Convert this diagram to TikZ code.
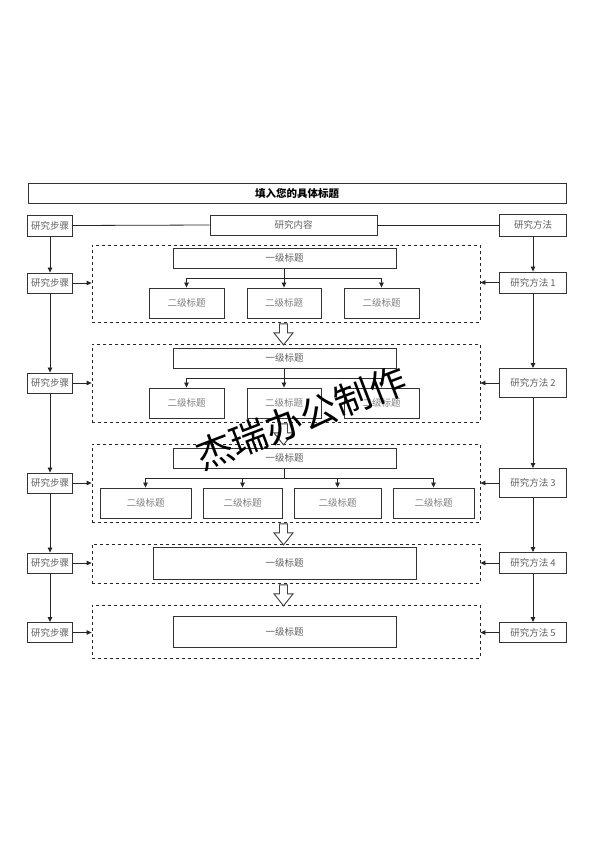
\documentclass[tikz,border=0pt]{standalone}
\usepackage{fontspec}
\newfontfamily\cjk{Noto Sans CJK SC}
\usetikzlibrary{arrows.meta,calc}
\begin{document}
\begin{tikzpicture}[x=1pt,y=-1pt,
  bx/.style={draw=black!80,line width=0.9pt,text=black!62,inner sep=0pt,
    font=\cjk\fontsize{9.5}{10}\selectfont,fill=white},
  sbox/.style={bx,minimum width=45pt,minimum height=20pt},
  mbox/.style={bx,minimum width=67pt},
  lvone/.style={bx,minimum width=223pt,minimum height=20pt},
  lvtwo/.style={bx,minimum height=30pt,text=black!50},
  dbox/.style={draw=black!85,dashed,line width=0.8pt,minimum width=388pt,inner sep=0pt},
  conn/.style={draw=black!85,line width=0.8pt},
  arr/.style={conn,-{Triangle[length=5pt,width=4.5pt]}},
  harrow/.pic={\draw[fill=white,draw=black!75,line width=0.9pt,line join=miter]
     (-4,0) -- (-4,9) -- (-9.5,9) -- (0,21) -- (9.5,9) -- (4,9) -- (4,0) -- cycle;}
]
\useasboundingbox (0,0) rectangle (594,841);
\fill[white] (0,0) rectangle (594,841);

% title
\node[bx,minimum width=538pt,minimum height=20pt,text=black,font=\cjk\bfseries\fontsize{10.5}{11}\selectfont] (title) at (297,193) {填入您的具体标题};

% top row
\node[sbox,minimum height=21pt] (s0) at (50,225.5) {研究步骤};
\node[bx,minimum width=167pt,minimum height=20pt] (content) at (293.5,225) {研究内容};
\node[mbox,minimum height=22pt] (m0) at (533,225) {研究方法};

% dashed frames
\node[dbox,minimum height=77pt] (d1) at (286,283.5) {};
\node[dbox,minimum height=78pt] (d2) at (286,383) {};
\node[dbox,minimum height=78pt] (d3) at (286,483) {};
\node[dbox,minimum height=39pt] (d4) at (286,563.5) {};
\node[dbox,minimum height=53pt] (d5) at (286,631.5) {};

% left column
\node[sbox] (s1) at (50,283) {研究步骤};
\node[sbox] (s2) at (50,383) {研究步骤};
\node[sbox] (s3) at (50,483) {研究步骤};
\node[sbox] (s4) at (50,563) {研究步骤};
\node[sbox] (s5) at (50,632.5) {研究步骤};

% right column
\node[mbox,minimum height=21pt] (m1) at (533,282.5) {研究方法 1};
\node[mbox,minimum height=29pt] (m2) at (533,383) {研究方法 2};
\node[mbox,minimum height=29pt] (m3) at (533,483) {研究方法 3};
\node[mbox,minimum height=21pt] (m4) at (533,563) {研究方法 4};
\node[mbox,minimum height=20pt] (m5) at (533,632.5) {研究方法 5};

% level-one boxes
\node[lvone] (r1) at (284.5,258) {一级标题};
\node[lvone] (r2) at (284.5,358) {一级标题};
\node[lvone] (r3) at (284.5,458) {一级标题};
\node[lvone,minimum width=263pt,minimum height=32pt] (r4) at (284.5,563) {一级标题};
\node[lvone,minimum height=31pt] (r5) at (284.5,631.5) {一级标题};

% level-two boxes
\node[lvtwo,minimum width=75pt] (a1) at (186.5,303) {二级标题};
\node[lvtwo,minimum width=74pt] (a2) at (284,303) {二级标题};
\node[lvtwo,minimum width=75pt] (a3) at (381.5,303) {二级标题};
\node[lvtwo,minimum width=75pt] (b1) at (186.5,403) {二级标题};
\node[lvtwo,minimum width=74pt] (b2) at (284,403) {二级标题};
\node[lvtwo,minimum width=75pt] (b3) at (381.5,403) {二级标题};
\node[lvtwo,minimum width=91pt] (c1) at (145.5,503) {二级标题};
\node[lvtwo,minimum width=79pt] (c2) at (242.5,503) {二级标题};
\node[lvtwo,minimum width=87pt] (c3) at (337.5,503) {二级标题};
\node[lvtwo,minimum width=81pt] (c4) at (433.5,503) {二级标题};

% branches
\coordinate (k1) at (284.5,278);
\coordinate (k2) at (284.5,378);
\coordinate (k3) at (284.5,478);
\draw[conn] (r1.south) -- (k1);
\draw[conn] (a1.north |- k1) -- (a3.north |- k1);
\foreach \n in {a1,a2,a3} \draw[arr] (\n.north |- k1) -- (\n.north);
\draw[conn] (r2.south) -- (k2);
\draw[conn] (b1.north |- k2) -- (b3.north |- k2);
\foreach \n in {b1,b2,b3} \draw[arr] (\n.north |- k2) -- (\n.north);
\draw[conn] (r3.south) -- (k3);
\draw[conn] (c1.north |- k3) -- (c4.north |- k3);
\foreach \n in {c1,c2,c3,c4} \draw[arr] (\n.north |- k3) -- (\n.north);

% top connectors
\draw[conn] (s0.east) -- (content.west);
\draw[conn] (content.east) -- (m0.west);

% column connectors
\draw[arr] (s0) -- (s1);
\draw[arr] (s1) -- (s2);
\draw[arr] (s2) -- (s3);
\draw[arr] (s3) -- (s4);
\draw[arr] (s4) -- (s5);
\draw[arr] (m0) -- (m1);
\draw[arr] (m1) -- (m2);
\draw[arr] (m2) -- (m3);
\draw[arr] (m3) -- (m4);
\draw[arr] (m4) -- (m5);
\foreach \i in {1,...,5} {
  \draw[arr] (s\i.east) -- (d\i.west |- s\i.east);
  \draw[arr] (m\i.west) -- (d\i.east |- m\i.west);
}

% hollow arrows
\pic at ($(d1.south)+(-2.5,1.5)$) {harrow};
\pic at ($(d2.south)+(-2.5,1.5)$) {harrow};
\pic at ($(d3.south)+(-2.5,1.5)$) {harrow};
\pic at ($(d4.south)+(-2.5,1.5)$) {harrow};

% watermark
\node[rotate=21,inner sep=0pt,text=black,font=\cjk\fontsize{37}{37}\selectfont] (wm) at (301,418) {杰瑞办公制作};
\end{tikzpicture}
\end{document}
